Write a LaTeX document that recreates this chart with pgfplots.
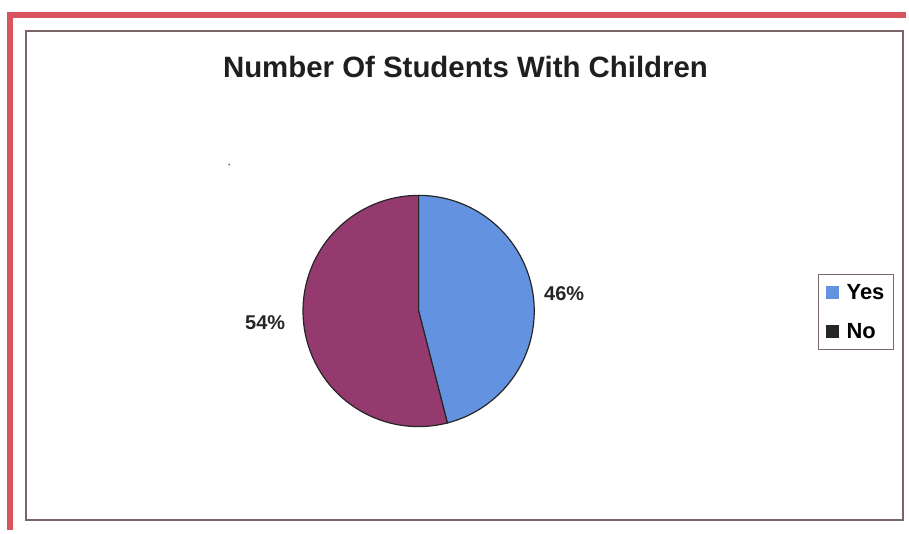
\documentclass[border=0pt]{standalone}
\usepackage{pgfplots}
\pgfplotsset{compat=1.18}
\usepackage{pgfplotstable}
\usepackage{fontspec}
\setmainfont{Liberation Sans}
\definecolor{yescol}{HTML}{6393E0}
\definecolor{nocol}{HTML}{953A6E}
\definecolor{framered}{HTML}{D9545F}
\definecolor{boxgray}{HTML}{7A6666}
\pgfplotstableread{
label value
Yes 46
No 54
}\piedata
\begin{document}
\begin{tikzpicture}
\pgfplotstablegetelem{0}{value}\of\piedata \pgfmathsetmacro{\vyes}{\pgfplotsretval}
\pgfplotstablegetelem{1}{value}\of\piedata \pgfmathsetmacro{\vno}{\pgfplotsretval}
\pgfmathsetmacro{\tot}{\vyes+\vno}
\pgfmathsetmacro{\frac}{\vyes/\tot}
\pgfmathsetmacro{\angA}{90}
\pgfmathsetmacro{\angB}{90-360*\frac}
\pgfmathsetmacro{\angC}{90-360}
\begin{axis}[
  width=909pt, height=532pt, scale only axis,
  xmin=0, xmax=909, ymin=0, ymax=532, y dir=reverse,
  hide axis, clip=false,
  legend style={at={(axis cs:821,275)}, anchor=north west, draw=boxgray, line width=0.8pt,
    font=\fontsize{22}{24}\selectfont\bfseries, inner xsep=7pt, inner ysep=8pt,
    row sep=18pt, cells={anchor=west},
    /tikz/every odd column/.append style={column sep=6pt}},
  legend image code/.code={\fill[#1, draw=none] (0pt,-6.5pt) rectangle (13pt,6.5pt);},
]
% frames
\fill[white] (axis cs:0,0) rectangle (axis cs:909,532);
\draw[framered, line width=6pt] (axis cs:10,532) -- (axis cs:10,15.5) -- (axis cs:909,15.5);
\draw[boxgray, line width=1.6pt] (axis cs:26,31) rectangle (axis cs:906,522);
% pie
\fill[yescol, draw=black!85, line width=1.2pt] (axis cs:420,312) -- ++(\angA:116pt) arc[start angle=\angA, end angle=\angB, radius=116pt] -- cycle;
\fill[nocol, draw=black!85, line width=1.2pt] (axis cs:420,312) -- ++(\angB:116pt) arc[start angle=\angB, end angle=\angC, radius=116pt] -- cycle;
% labels
\node[font=\fontsize{20}{22}\selectfont\bfseries, text=black!85] at (axis cs:566,295) {46\%};
\node[font=\fontsize{20}{22}\selectfont\bfseries, text=black!85] at (axis cs:266,324) {54\%};
\node[font=\fontsize{29.5}{32}\selectfont\bfseries, text=black!88] at (axis cs:467,67) {Number Of Students With Children};
\fill[gray] (axis cs:230,165) circle (1.2pt);
% legend
\addlegendimage{fill=yescol}
\addlegendentry{Yes}
\addlegendimage{fill=black!85}
\addlegendentry{No}
\end{axis}
\end{tikzpicture}
\end{document}
